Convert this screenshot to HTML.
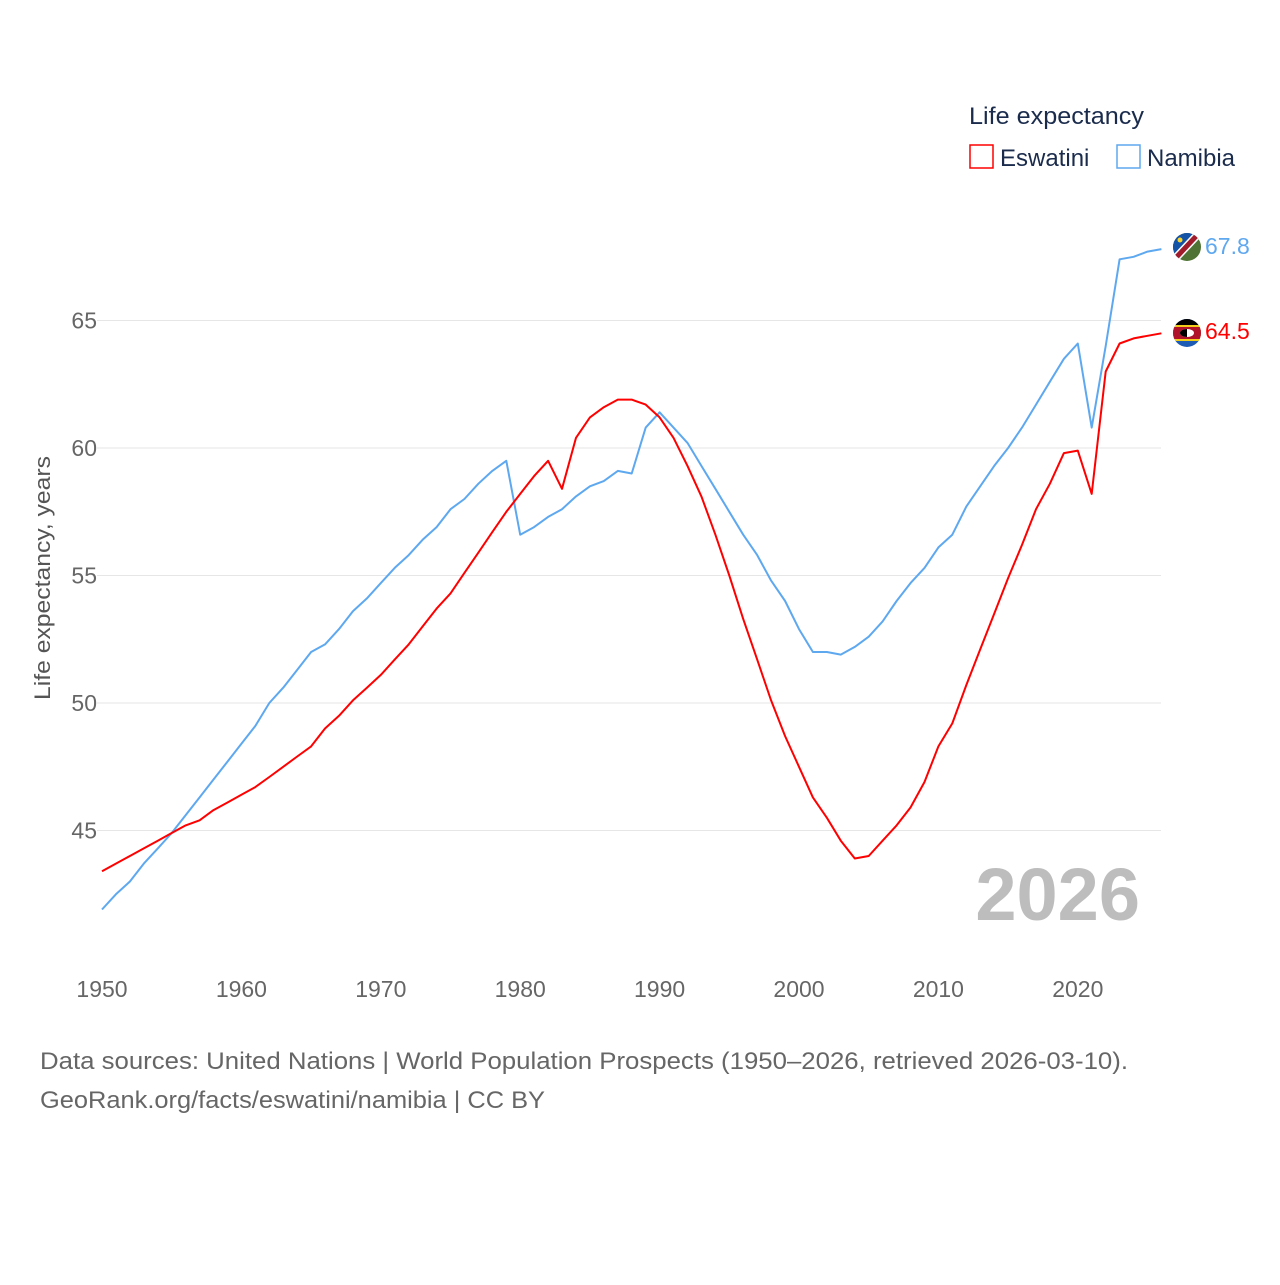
<!DOCTYPE html>
<html><head><meta charset="utf-8"><style>
body{margin:0;background:#fff;font-family:"Liberation Sans",sans-serif}
svg text{font-family:"Liberation Sans",sans-serif}
</style></head><body>
<svg id="chart" width="1280" height="1280" xmlns="http://www.w3.org/2000/svg">
<defs>
<clipPath id="cn"><circle cx="1187" cy="247" r="14"/></clipPath>
<clipPath id="ce"><circle cx="1187" cy="333" r="14"/></clipPath>
</defs>
<g id="grid"></g><g id="xt"></g><g id="lines"></g>
<text transform="translate(50,578) rotate(-90)" text-anchor="middle" font-size="22" fill="#555" textLength="244" lengthAdjust="spacingAndGlyphs">Life expectancy, years</text>
<text x="1140" y="920" text-anchor="end" font-size="74" font-weight="bold" fill="#bdbdbd">2026</text>
<text x="969" y="124" font-size="24" fill="#1a2b4c" textLength="175" lengthAdjust="spacingAndGlyphs">Life expectancy</text>
<g><rect x="970" y="145" width="23" height="23" fill="none" stroke="red" stroke-width="1.5"/><text x="1000" y="166" font-size="24" fill="#1a2b4c">Eswatini</text></g>
<g><rect x="1117" y="145" width="23" height="23" fill="none" stroke="#5ea8ef" stroke-width="1.5"/><text x="1147" y="166" font-size="24" fill="#1a2b4c">Namibia</text></g>
<g clip-path="url(#cn)"><rect x="1173" y="233" width="28" height="28" fill="#4e7334"/><polygon points="1173,233 1201,233 1173,261" fill="#1553a6"/><line x1="1201" y1="231" x2="1171" y2="263" stroke="#fff" stroke-width="8"/><line x1="1201" y1="231" x2="1171" y2="263" stroke="#a01c2c" stroke-width="5"/><circle cx="1180" cy="240" r="2.5" fill="#f9d42c"/></g>
<g clip-path="url(#ce)"><rect x="1173" y="319" width="28" height="28" fill="#1d5bb5"/><rect x="1173" y="325" width="28" height="16" fill="#f2cd1c"/><rect x="1173" y="327" width="28" height="12" fill="#b0132a"/><ellipse cx="1187" cy="333" rx="7" ry="4" fill="#fff"/><path d="M1180,333 a7,4 0 0 0 7,4 v-8 a7,4 0 0 0 -7,4z" fill="#000"/><rect x="1173" y="319" width="28" height="6" fill="#000"/></g>
<text x="1205" y="254" font-size="23" fill="#5ea8ef">67.8</text>
<text x="1205" y="339" font-size="23" fill="red">64.5</text>
<text x="40" y="1069" font-size="24" fill="#666" textLength="1088" lengthAdjust="spacingAndGlyphs">Data sources: United Nations | World Population Prospects (1950–2026, retrieved 2026-03-10).</text>
<text x="40" y="1108" font-size="24" fill="#666" textLength="505" lengthAdjust="spacingAndGlyphs">GeoRank.org/facts/eswatini/namibia | CC BY</text>
</svg>
<script>
const years=[];for(let y=1950;y<=2026;y++)years.push(y);
const eswatini=[43.4,43.7,44.0,44.3,44.6,44.9,45.2,45.4,45.8,46.1,46.4,46.7,47.1,47.5,47.9,48.3,49.0,49.5,50.1,50.6,51.1,51.7,52.3,53.0,53.7,54.3,55.1,55.9,56.7,57.5,58.2,58.9,59.5,58.4,60.4,61.2,61.6,61.9,61.9,61.7,61.2,60.4,59.3,58.1,56.6,55.0,53.3,51.7,50.1,48.7,47.5,46.3,45.5,44.6,43.9,44.0,44.6,45.2,45.9,46.9,48.3,49.2,50.7,52.1,53.5,54.9,56.2,57.6,58.6,59.8,59.9,58.2,63.0,64.1,64.3,64.4,64.5];
const namibia=[41.9,42.5,43.0,43.7,44.3,44.9,45.6,46.3,47.0,47.7,48.4,49.1,50.0,50.6,51.3,52.0,52.3,52.9,53.6,54.1,54.7,55.3,55.8,56.4,56.9,57.6,58.0,58.6,59.1,59.5,56.6,56.9,57.3,57.6,58.1,58.5,58.7,59.1,59.0,60.8,61.4,60.8,60.2,59.3,58.4,57.5,56.6,55.8,54.8,54.0,52.9,52.0,52.0,51.9,52.2,52.6,53.2,54.0,54.7,55.3,56.1,56.6,57.7,58.5,59.3,60.0,60.8,61.7,62.6,63.5,64.1,60.8,64.0,67.4,67.5,67.7,67.8];
const yTicks=[45,50,55,60,65];
const xTicks=[1950,1960,1970,1980,1990,2000,2010,2020];
const X=y=>102+(y-1950)*13.94;
const Y=v=>448-(v-60)*25.5;
const NS='http://www.w3.org/2000/svg';
function mk(t,a,p){const e=document.createElementNS(NS,t);for(const k in a)e.setAttribute(k,a[k]);p.appendChild(e);return e;}
const g=document.getElementById('grid');
yTicks.forEach(v=>{
 const l=mk('line',{x1:97,x2:1161,y1:Y(v),y2:Y(v),stroke:'#e6e6e6','stroke-width':1},g);
 
 
 const t=mk('text',{x:97,y:Y(v)+8,'text-anchor':'end','font-size':23,fill:'#666'},g);
 
 
 t.textContent=v;
});
const xt=document.getElementById('xt');
xTicks.forEach(v=>{
 const t=mk('text',{x:X(v),y:997,'text-anchor':'middle','font-size':23,fill:'#666'},xt);
 
 
 t.textContent=v;
});
const lg=document.getElementById('lines');
function line(data,color,name){
 const d=data.map((v,i)=>(i?'L':'M')+X(years[i]).toFixed(1)+','+Y(v).toFixed(1)).join('');
 const p=mk('path',{d:d,fill:'none',stroke:color,'stroke-width':2,'stroke-linejoin':'round'},lg);
 
 
}
line(namibia,'#5ea8ef','namibia-line');
line(eswatini,'red','eswatini-line');
</script>
</body></html>
